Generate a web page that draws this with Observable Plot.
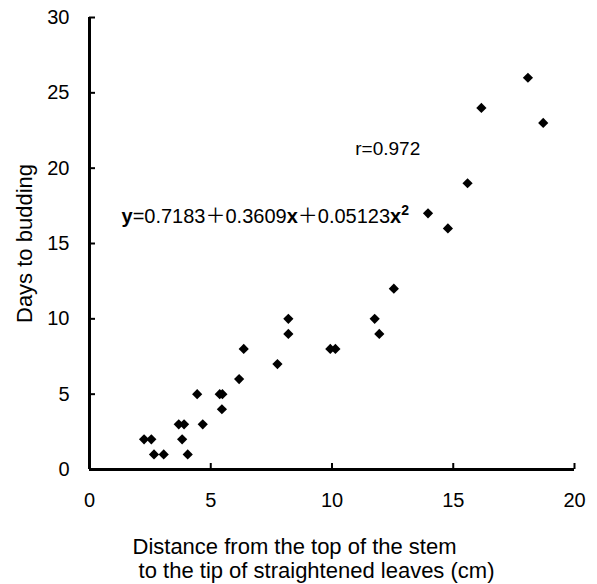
<!DOCTYPE html>
<html><head><meta charset="utf-8">
<script src="https://cdn.jsdelivr.net/npm/d3@7"></script>
<script src="https://cdn.jsdelivr.net/npm/@observablehq/plot@0.6"></script>
<style>html,body{margin:0;padding:0;background:#fff}</style>
</head><body><div id="chart"></div>
<script>
// Data
const distance = [2.25, 2.55, 2.66, 3.06, 3.68, 3.90, 3.82, 4.05, 4.44, 4.67, 5.37, 5.48, 5.46, 6.17, 6.36, 7.75, 8.20, 8.20, 9.93, 10.14, 11.76, 11.95, 12.55, 13.96, 14.78, 15.59, 16.16, 18.08, 18.71];
const days     = [2,    2,    1,    1,    3,    3,    2,    1,    5,    3,    5,    5,    4,    6,    8,    7,    10,   9,    8,    8,     10,    9,     12,    17,    16,    19,    24,    26,    23];
const xTicks = [0, 5, 10, 15, 20];
const yTicks = [0, 5, 10, 15, 20, 25, 30];
const xLabelLines = ["Distance from the top of the stem", " to the tip of straightened leaves (cm)"];
const yLabel = "Days to budding";
const notes = ["r=0.972", "y=0.7183＋0.3609x＋0.05123x²"];
const noteX = [10.96, 1.32];
const noteY = [21.3, 16.8];
const noteSize = [19, 20];

const points = distance.map((d, i) => ({distance: d, days: days[i]}));
const FONT = "'Liberation Sans', Arial, 'Noto Sans CJK JP', sans-serif";

const chart = Plot.plot({
  width: 597, height: 584,
  marginLeft: 89, marginRight: 23, marginTop: 17, marginBottom: 115,
  style: {fontFamily: FONT, fontSize: "20px", background: "#fff", color: "#000"},
  x: {domain: [0, 20]},
  y: {domain: [0, 30]},
  marks: [
    Plot.axisX({ticks: xTicks, tickSize: -6, tickPadding: 29, strokeWidth: 2, fontSize: 20, label: null}),
    Plot.axisY({ticks: yTicks, tickSize: -6, tickPadding: 26, strokeWidth: 2, fontSize: 20, label: null}),
    Plot.ruleX([0], {strokeWidth: 3}),
    Plot.ruleY([0], {strokeWidth: 3}),
    Plot.dot(points, {x: "distance", y: "days", symbol: "diamond2", r: 4.6, fill: "#000", stroke: null}),
    Plot.text(notes, {x: (d, i) => noteX[i], y: (d, i) => noteY[i], text: d => d, textAnchor: "start", fontSize: (d, i) => noteSize[i]}),
    Plot.text([yLabel], {frameAnchor: "left", dx: -65, rotate: -90, textAnchor: "middle", lineAnchor: "middle", fontSize: 22}),
    Plot.text([xLabelLines.join("\n")], {frameAnchor: "bottom-left", dx: 43, dy: 67, textAnchor: "start", lineAnchor: "top", lineHeight: 1.1, fontSize: 22})
  ]
});

// Style the regression equation: bold variables, superscript exponent
d3.select(chart).selectAll("text").filter(function() { return this.textContent === notes[1]; }).each(function() {
  const el = d3.select(this);
  el.text(null);
  const parts = [["y", true], ["=0.7183＋0.3609", false], ["x", true], ["＋0.05123", false], ["x", true]];
  parts.forEach(([t, b]) => el.append("tspan").attr("font-weight", b ? "bold" : null).text(t));
  el.append("tspan").attr("font-weight", "bold").attr("font-size", 14).attr("dy", -8).text("2");
});

document.getElementById("chart").appendChild(chart);
</script>
</body></html>
